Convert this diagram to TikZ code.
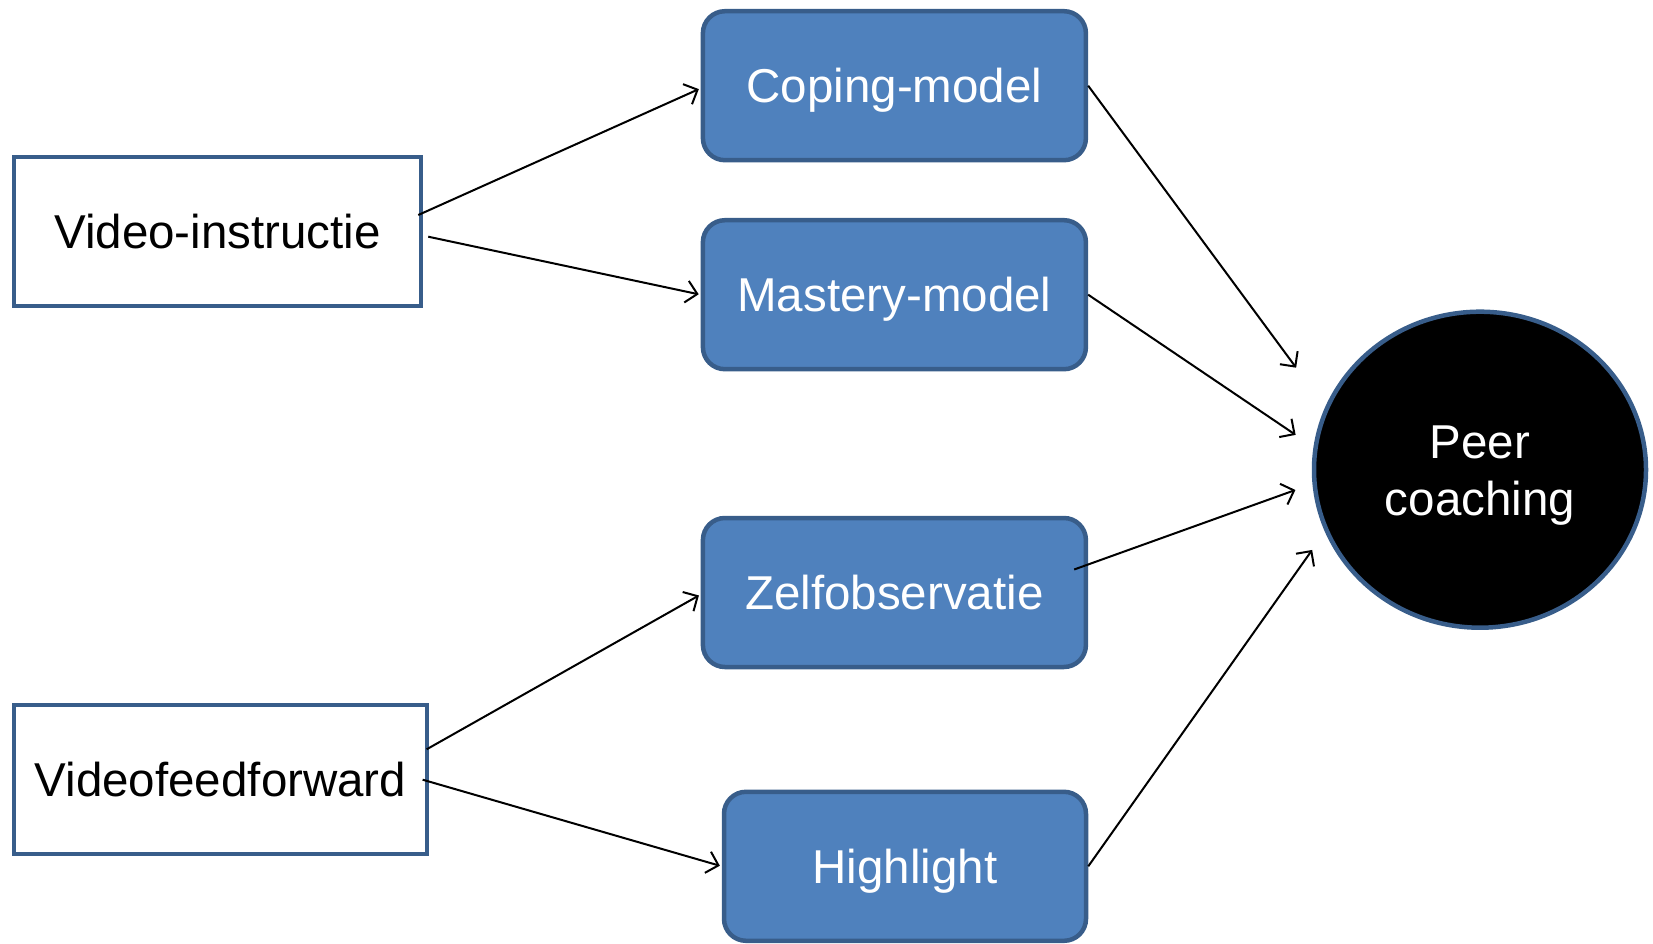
\documentclass[tikz,border=0pt]{standalone}
\usepackage{fontspec}
\setmainfont{Liberation Sans}
\usepackage{tikz}
\usetikzlibrary{arrows.meta, shapes.geometric}
\definecolor{boxblue}{HTML}{4F81BD}
\definecolor{edgeblue}{HTML}{385D8A}

\begin{document}
\begin{tikzpicture}[x=1pt,y=-1pt,->,>={Straight Barb[length=11pt,width=22pt]},
                    shorten >=2pt,line width=2pt]
  \tikzstyle{source}=[rectangle,fill=white,draw=edgeblue,line width=4.5pt,text=black,
                      text height=34pt,text depth=0pt,
                      minimum width=407pt,minimum height=149pt,font=\fontsize{47.5}{57}\selectfont]
  \tikzstyle{model}=[rectangle,fill=boxblue,draw=edgeblue,line width=4.5pt,text=white,rounded corners=22pt,
                     text height=34pt,text depth=0pt,
                     minimum width=383pt,minimum height=149pt,font=\fontsize{47.5}{57}\selectfont]
  \tikzstyle{goal}=[ellipse,fill=black,draw=edgeblue,line width=4.5pt,text=white,align=center,
                    text height=91pt,text depth=0pt,
                    minimum width=332pt,minimum height=316pt,font=\fontsize{47.5}{57}\selectfont]
  \useasboundingbox (0,0) rectangle (1653,944);
  \node[source]                      (vi) at (217.5, 231.7) {Video-instructie};
  \node[source,minimum width=413pt]  (vf) at (220.5, 779.7) {Videofeedforward};
  \node[model]                       (cm) at (894.4, 85.7)  {Coping-model};
  \node[model]                       (mm) at (894.4, 294.7) {Mastery-model};
  \node[model]                       (zo) at (894.4, 592.5) {Zelfobservatie};
  \node[model,minimum width=362pt]   (hl) at (905, 866.3)   {Highlight};
  \node[goal]                        (pc) at (1480, 469.7)  {Peer\\coaching};
  % loose arrow ends in front of the circle
  \coordinate (p1) at (1297.3, 369.3);
  \coordinate (p2) at (1297.3, 436);
  \coordinate (p3) at (1297.3, 489.3);
  \coordinate (p4) at (1313.3, 548.3);
  \draw ([xshift=-5pt,yshift=16.7pt]vi.east) -- ([yshift=-2.6pt]cm.west);
  \draw ([xshift=5pt,yshift=-5pt]vi.east) -- (mm.west);
  \draw ([xshift=-2.6pt,yshift=30.4pt]vf.east) -- ([yshift=-2pt]zo.west);
  \draw ([xshift=-6.6pt]vf.east) -- (hl.west);
  \draw (cm.east) -- (p1);
  \draw (mm.east) -- (p2);
  \draw ([xshift=-14pt,yshift=23pt]zo.east) -- (p3);
  \draw (hl.east) -- (p4);
\end{tikzpicture}
\end{document}
